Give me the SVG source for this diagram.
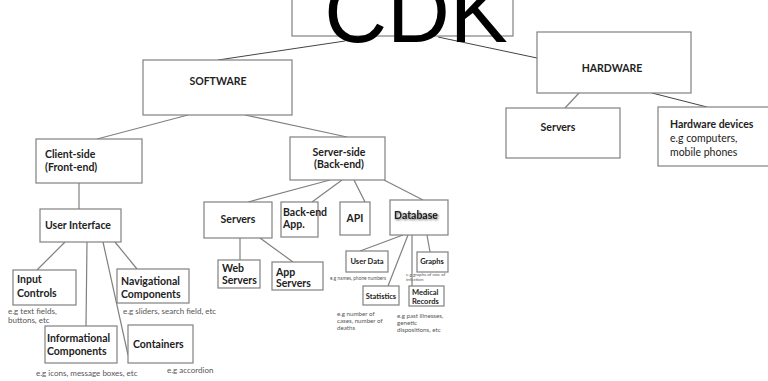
<svg xmlns="http://www.w3.org/2000/svg" width="768" height="381" viewBox="0 0 768 381">
<style>
.b{fill:#fff;stroke:#808080;stroke-width:1.2}
.t{font-family:Lato,"Open Sans",sans-serif;font-weight:bold;fill:#222}
.n{font-family:Lato,"Open Sans",sans-serif;fill:#222}
.c{font-family:Lato,"Open Sans",sans-serif;fill:#555}
.l{stroke:#808080;stroke-width:1.2;fill:none}
.d{stroke:#444;stroke-width:1;fill:none}
</style>
<defs>
<filter id="sh" x="-20%" y="-50%" width="140%" height="200%">
<feGaussianBlur in="SourceAlpha" stdDeviation="1.2" result="b"/>
<feOffset dx="0.5" dy="1" result="o"/>
<feComponentTransfer in="o" result="g"><feFuncA type="linear" slope="0.6"/></feComponentTransfer>
<feMerge><feMergeNode in="g"/><feMergeNode in="SourceGraphic"/></feMerge>
</filter>
</defs>
<rect width="768" height="381" fill="#fff"/>
<g id="connectors">
<line class="d" x1="218" y1="60" x2="345" y2="41"/>
<line class="d" x1="438" y1="37" x2="537" y2="58"/>
<line class="l" x1="188" y1="115" x2="97" y2="139"/>
<line class="l" x1="245" y1="115" x2="347" y2="137"/>
<line class="l" x1="579" y1="93" x2="565" y2="108"/>
<line class="d" x1="652" y1="93" x2="707" y2="107"/>
<line class="l" x1="79" y1="183" x2="79" y2="209"/>
<line class="l" x1="65" y1="242" x2="37" y2="270"/>
<line class="l" x1="87" y1="242" x2="86" y2="326"/>
<line class="l" x1="103" y1="242" x2="128" y2="355"/>
<line class="l" x1="115" y1="242" x2="137" y2="269"/>
<line class="l" x1="330" y1="180" x2="248" y2="202"/>
<line class="l" x1="342" y1="180" x2="312" y2="202"/>
<line class="l" x1="354" y1="180" x2="365" y2="202"/>
<line class="l" x1="384" y1="180" x2="423" y2="200"/>
<line class="l" x1="240" y1="238" x2="240" y2="260"/>
<line class="l" x1="260" y1="238" x2="293" y2="262"/>
<line class="l" x1="403" y1="235" x2="360" y2="251"/>
<line class="l" x1="408" y1="235" x2="388" y2="286"/>
<line class="l" x1="412" y1="235" x2="412" y2="286"/>
<line class="l" x1="427" y1="235" x2="430" y2="252"/>
</g>
<g id="cdk">
<rect class="b" x="292" y="-5" width="221" height="41" stroke="#666"/>
<text x="416" y="42" text-anchor="middle" font-family="'Liberation Sans',Arial,sans-serif" font-size="87" fill="#000">CDK</text>
</g>
<g id="software">
<rect class="b" x="143" y="60" width="149" height="55"/>
<text class="t" x="218" y="85" text-anchor="middle" font-size="10.5">SOFTWARE</text>
</g>
<g id="hardware">
<rect class="b" x="537" y="32" width="154" height="61"/>
<text class="t" x="612" y="72" text-anchor="middle" font-size="10.5">HARDWARE</text>
</g>
<g id="hw-servers">
<rect class="b" x="506" y="108" width="114" height="50"/>
<text class="t" x="558" y="131" text-anchor="middle" font-size="10.5">Servers</text>
</g>
<g id="hw-devices">
<rect class="b" x="658" y="107" width="112" height="59"/>
<text class="t" x="670" y="128" font-size="10.5">Hardware devices</text>
<text class="n" x="670" y="142" font-size="10.5">e.g computers,</text>
<text class="n" x="670" y="156" font-size="10.5">mobile phones</text>
</g>
<g id="client">
<rect class="b" x="36" y="139" width="106" height="44"/>
<text class="t" x="45" y="158" font-size="10.5">Client-side</text>
<text class="t" x="45" y="171" font-size="10.5">(Front-end)</text>
</g>
<g id="server-side">
<rect class="b" x="290" y="137" width="95" height="43"/>
<text class="t" x="339" y="156" text-anchor="middle" font-size="10.5">Server-side</text>
<text class="t" x="339" y="168" text-anchor="middle" font-size="10.5">(Back-end)</text>
</g>
<g id="ui">
<rect class="b" x="40" y="209" width="81" height="33"/>
<text class="t" x="45" y="229" font-size="10.5">User Interface</text>
</g>
<g id="input">
<rect class="b" x="13" y="270" width="63" height="35"/>
<text class="t" x="17" y="283" font-size="10.5">Input</text>
<text class="t" x="17" y="297" font-size="10.5">Controls</text>
<text class="c" x="8" y="314" font-size="8">e.g text fields,</text>
<text class="c" x="8" y="323" font-size="8">buttons, etc</text>
</g>
<g id="nav">
<rect class="b" x="117" y="269" width="72" height="34"/>
<text class="t" x="121" y="285" font-size="10.5">Navigational</text>
<text class="t" x="121" y="298" font-size="10.5">Components</text>
<text class="c" x="123" y="314" font-size="8">e.g sliders, search field, etc</text>
</g>
<g id="info">
<rect class="b" x="45" y="326" width="72" height="37"/>
<text class="t" x="47" y="342" font-size="10.5">Informational</text>
<text class="t" x="47" y="355" font-size="10.5">Components</text>
<text class="c" x="36" y="376" font-size="8">e.g icons, message boxes, etc</text>
</g>
<g id="containers">
<rect class="b" x="128" y="325" width="65" height="38"/>
<text class="t" x="133" y="348" font-size="10.5">Containers</text>
<text class="c" x="167" y="373" font-size="8">e.g accordion</text>
</g>
<g id="be-servers">
<rect class="b" x="204" y="202" width="68" height="36"/>
<text class="t" x="238" y="223" text-anchor="middle" font-size="10.5">Servers</text>
</g>
<g id="backend-app">
<rect class="b" x="281" y="202" width="37" height="35"/>
<text class="t" x="283" y="216" font-size="10.5">Back-end</text>
<text class="t" x="283" y="228" font-size="10.5">App.</text>
</g>
<g id="api">
<rect class="b" x="340" y="202" width="30" height="33"/>
<text class="t" x="355" y="222" text-anchor="middle" font-size="10.5">API</text>
</g>
<g id="database">
<rect class="b" x="390" y="200" width="58" height="35"/>
<text class="t" x="416" y="219" text-anchor="middle" font-size="10.5" filter="url(#sh)">Database</text>
</g>
<g id="web-servers">
<rect class="b" x="218" y="260" width="42" height="28"/>
<text class="t" x="222" y="272" font-size="10.5">Web</text>
<text class="t" x="222" y="284" font-size="10.5">Servers</text>
</g>
<g id="app-servers">
<rect class="b" x="272" y="262" width="51" height="28"/>
<text class="t" x="276" y="276" font-size="10.5">App</text>
<text class="t" x="276" y="287" font-size="10.5">Servers</text>
</g>
<g id="user-data">
<rect class="b" x="346" y="251" width="42" height="21"/>
<text class="t" x="367" y="264" text-anchor="middle" font-size="7.5">User Data</text>
<text class="c" x="330" y="280" font-size="4.8">e.g names, phone numbers</text>
</g>
<g id="graphs">
<rect class="b" x="417" y="252" width="31" height="20"/>
<text class="t" x="432" y="264" text-anchor="middle" font-size="7.5">Graphs</text>
<text class="c" x="406" y="276" font-size="4.5">e.g graphs of rate of</text>
<text class="c" x="406" y="280.5" font-size="4.5">infection</text>
</g>
<g id="statistics">
<rect class="b" x="363" y="286" width="36" height="19"/>
<text class="t" x="381" y="298.5" text-anchor="middle" font-size="7.5">Statistics</text>
<text class="c" x="337" y="316" font-size="6.2">e.g number of</text>
<text class="c" x="337" y="323" font-size="6.2">cases, number of</text>
<text class="c" x="337" y="330" font-size="6.2">deaths</text>
</g>
<g id="medical">
<rect class="b" x="409" y="286" width="35" height="20"/>
<text class="t" x="412" y="294.5" font-size="7.5">Medical</text>
<text class="t" x="412" y="304" font-size="7.5">Records</text>
<text class="c" x="397" y="318" font-size="6.2">e.g past illnesses,</text>
<text class="c" x="397" y="325" font-size="6.2">genetic</text>
<text class="c" x="397" y="332" font-size="6.2">dispositions, etc</text>
</g>
</svg>
